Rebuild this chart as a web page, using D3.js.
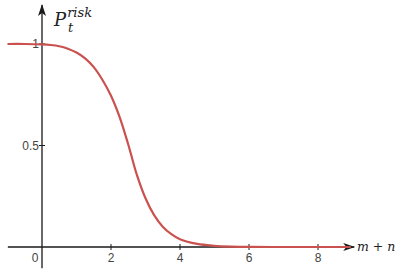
<!DOCTYPE html>
<html>
<head>
<meta charset="utf-8">
<script src="https://cdn.jsdelivr.net/npm/d3@7"></script>
<style>
  body { margin: 0; background: #fff; }
  svg { display: block; }
</style>
</head>
<body>
<div id="chart"></div>
<script>
// values
var xs = [-1, -0.5, 0, 0.25, 0.5, 0.75, 1, 1.25, 1.5, 1.75, 2, 2.25, 2.5, 2.75, 3, 3.25, 3.5, 3.75, 4, 4.5, 5, 5.5, 6, 7, 8, 8.95];
var risk = [1, 1, 0.998, 0.995, 0.989, 0.977, 0.958, 0.929, 0.886, 0.824, 0.745, 0.64, 0.505, 0.355, 0.24, 0.157, 0.1, 0.063, 0.038, 0.015, 0.006, 0.002, 0.0005, 0, 0, 0];
var xTicks = [0, 2, 4, 6, 8];
var yTicks = [0.5, 1];

var width = 396, height = 274;

var svg = d3.select("#chart")
  .append("svg")
    .attr("width", width)
    .attr("height", height);

var x = d3.scaleLinear().domain([0, 8]).range([42, 318]);
var y = d3.scaleLinear().domain([0, 1]).range([247, 44]);

var axisColor = "#1a1a1a";

// arrow heads
var defs = svg.append("defs");
defs.append("marker")
    .attr("id", "arrow")
    .attr("viewBox", "0 0 12 8")
    .attr("refX", 11)
    .attr("refY", 4)
    .attr("markerWidth", 12)
    .attr("markerHeight", 8)
    .attr("markerUnits", "userSpaceOnUse")
    .attr("orient", "auto")
  .append("path")
    .attr("d", "M0,0 L12,4 L0,8 L3,4 Z")
    .attr("fill", axisColor);

// x axis line
svg.append("line")
    .attr("x1", x(-0.99)).attr("x2", x(9.05))
    .attr("y1", y(0)).attr("y2", y(0))
    .attr("stroke", axisColor)
    .attr("stroke-width", 1.3)
    .attr("marker-end", "url(#arrow)");

// y axis line
svg.append("line")
    .attr("x1", x(0)).attr("x2", x(0))
    .attr("y1", y(-0.105)).attr("y2", 5)
    .attr("stroke", axisColor)
    .attr("stroke-width", 1.3)
    .attr("marker-end", "url(#arrow)");

var sans = "Liberation Sans, Arial, sans-serif";

// x ticks
var xt = svg.append("g");
xt.selectAll("line")
  .data(xTicks.filter(function(d){ return d != 0; }))
  .enter().append("line")
    .attr("x1", function(d){ return x(d); })
    .attr("x2", function(d){ return x(d); })
    .attr("y1", y(0) - 3)
    .attr("y2", y(0) + 3)
    .attr("stroke", axisColor)
    .attr("stroke-width", 1);
xt.selectAll("text")
  .data(xTicks)
  .enter().append("text")
    .attr("x", function(d){ return d == 0 ? x(d) - 7 : x(d); })
    .attr("y", y(0) + 14.5)
    .attr("text-anchor", "middle")
    .attr("font-family", sans)
    .attr("font-size", 12)
    .attr("fill", "#444")
    .text(function(d){ return d; });

// y ticks
var yt = svg.append("g");
yt.selectAll("line")
  .data(yTicks)
  .enter().append("line")
    .attr("x1", x(0) - 3)
    .attr("x2", x(0) + 3)
    .attr("y1", function(d){ return y(d); })
    .attr("y2", function(d){ return y(d); })
    .attr("stroke", axisColor)
    .attr("stroke-width", 1);
yt.selectAll("text")
  .data(yTicks)
  .enter().append("text")
    .attr("x", x(0) - 3)
    .attr("y", function(d){ return y(d) + 4; })
    .attr("text-anchor", "end")
    .attr("font-family", sans)
    .attr("font-size", 12)
    .attr("fill", "#444")
    .text(function(d){ return d; });

// curve
var line = d3.line()
    .x(function(d, i){ return x(xs[i]); })
    .y(function(d){ return y(d); })
    .curve(d3.curveCatmullRom.alpha(0.5));

svg.append("path")
    .datum(risk)
    .attr("d", line)
    .attr("fill", "none")
    .attr("stroke", "#c9524f")
    .attr("stroke-width", 2.2);

// axis labels
var serif = "DejaVu Serif, Liberation Serif, serif";
var py = svg.append("text")
    .attr("x", 54)
    .attr("y", 26)
    .attr("font-family", serif)
    .attr("font-style", "italic")
    .attr("fill", "#222");
py.append("tspan").attr("font-size", 18).text("P");
py.append("tspan").attr("font-size", 13).attr("dy", -9).attr("dx", 1).text("risk");
svg.append("text")
    .attr("x", 68)
    .attr("y", 32)
    .attr("font-family", serif)
    .attr("font-style", "italic")
    .attr("font-size", 13)
    .attr("fill", "#222")
    .text("t");

var mn = svg.append("text")
    .attr("x", 357)
    .attr("y", 251)
    .attr("font-family", serif)
    .attr("font-size", 12.5)
    .attr("fill", "#222");
mn.append("tspan").attr("font-style", "italic").text("m");
mn.append("tspan").text(" + ");
mn.append("tspan").attr("font-style", "italic").text("n");
</script>
</body>
</html>
